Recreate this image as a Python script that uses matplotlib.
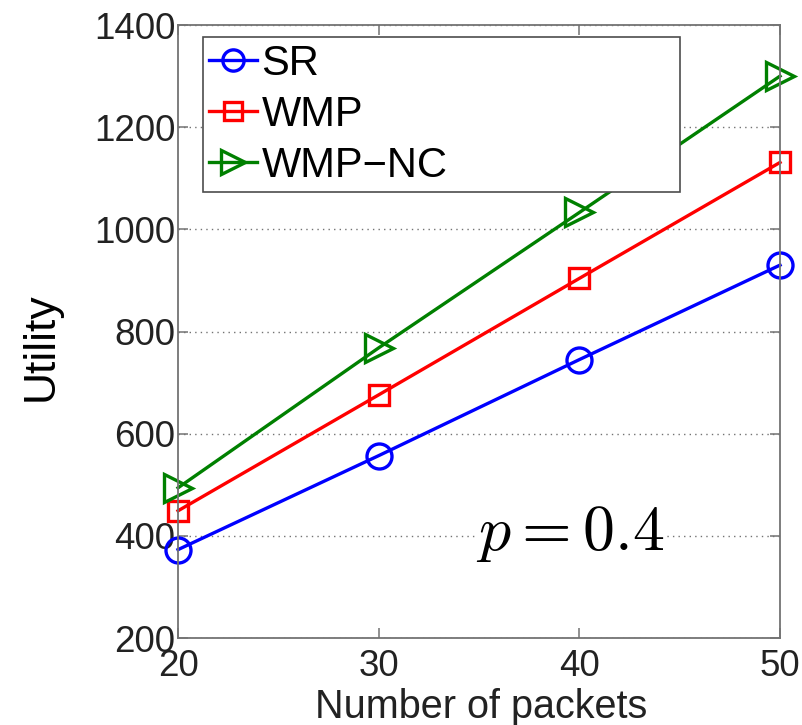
import matplotlib
matplotlib.use("Agg")
import matplotlib.pyplot as plt

# Utility versus number of packets, p = 0.4
packets = [20, 30, 40, 50]
sr = [373, 557, 745, 930]
wmp = [449, 676, 904, 1131]
wmp_nc = [494, 768, 1033, 1300]
labels = ["SR", "WMP", "WMP\u2212NC"]

plt.rcParams["font.family"] = ["Liberation Sans", "DejaVu Sans"]
plt.rcParams["mathtext.fontset"] = "cm"

fig = plt.figure(figsize=(8.03, 7.25), dpi=100)
ax = fig.add_axes([0.2217, 0.12, 0.7497, 0.8455])

style = dict(lw=2.4, mew=2.4, mfc="none", clip_on=False)
ax.plot(packets, sr, color=(0, 0, 1), marker="o", ms=18, label=labels[0], **style)
ax.plot(packets, wmp, color=(1, 0, 0), marker="s", ms=15, label=labels[1], **style)
ax.plot(packets, wmp_nc, color=(0, 0.5, 0), marker=">", ms=20, label=labels[2], **style)

ax.set_xlim(20, 50)
ax.set_ylim(200, 1400)
ax.set_xticks([20, 30, 40, 50])
ax.set_yticks(range(200, 1401, 200))
ax.yaxis.grid(True, linestyle=(0, (1, 3)), color="0.45", lw=1.0)
ax.set_axisbelow(True)

for s in ax.spines.values():
    s.set_color("0.45")
    s.set_linewidth(1.3)
ax.tick_params(direction="in", length=7, width=1.1, color="0.45",
               top=True, right=True, labelsize=26.5, labelcolor="#222222", pad=2)
ax.tick_params(axis="x", pad=8)

ax.set_xlabel("Number of packets", fontsize=28.5, color="#222222")
ax.xaxis.label.set_va("baseline")
ax.xaxis.set_label_coords(0.503, -0.1305)
ax.set_ylabel("Utility", fontsize=32, color="black")
ax.yaxis.set_label_coords(-0.193, 0.476)

ax.text(0.651, 0.143, r"$p = 0.4$", transform=ax.transAxes, fontsize=46,
        ha="center", va="baseline",
        bbox=dict(facecolor="white", edgecolor="none", pad=0))

leg = ax.legend(loc="upper left", bbox_to_anchor=(0.0415, 0.731, 0.7925, 0.249),
                mode="expand", fontsize=30, handlelength=1.15, handletextpad=0.1,
                borderpad=0.15, labelspacing=0.27, markerscale=0.85,
                fancybox=False, framealpha=1, borderaxespad=0)
leg.get_frame().set_edgecolor("0.3")
leg.get_frame().set_linewidth(1.2)

fig.savefig("out.png", dpi=100)
